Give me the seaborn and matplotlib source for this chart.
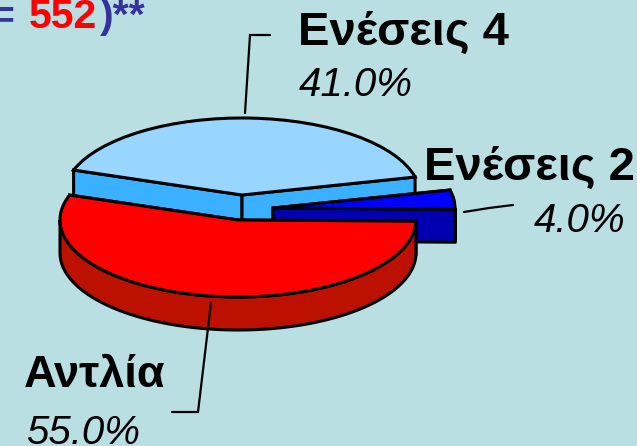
import numpy as np
import matplotlib
matplotlib.use("Agg")
import matplotlib.pyplot as plt
from matplotlib.patches import Polygon
from matplotlib.transforms import Affine2D
import seaborn as sns

# Survey shares by treatment type
labels = ["Ενέσεις 4", "Αντλία", "Ενέσεις 2"]
shares = [41.0, 55.0, 4.0]
share_labels = ["41.0%", "55.0%", "4.0%"]
sample_size = "552"

top_colors = sns.color_palette(["#99D6FF", "#FF0000", "#0000FF"])
side_colors = sns.color_palette(["#3AB0FF", "#BC1000", "#0000B0"])
BACKGROUND = "#B9DFE3"
NAVY = "#333399"

# Geometry of the tilted disc, in pixel units
FIG_H = 446
START_ANGLE = 13.5
RY, DEPTH = 77, 33
centres = [(242, 195), (238, 220), (273, 208)]
radii_x = [178, 178, 182]
z_order = [0, 2, 1]

sns.set_theme(style="white")
plt.rcParams["font.family"] = ["Liberation Sans", "DejaVu Sans"]

fig = plt.figure(figsize=(6.37, 4.46), dpi=100, facecolor=BACKGROUND)
ax = fig.add_axes([0, 0, 1, 1])
wedges, _ = ax.pie(shares, startangle=START_ANGLE, colors=top_colors, normalize=True,
                   wedgeprops=dict(edgecolor="black", linewidth=2.2, joinstyle="miter"))
ax.set_aspect("auto")
ax.set_xlim(0, 637)
ax.set_ylim(0, FIG_H)
ax.set_facecolor(BACKGROUND)
ax.axis("off")


def to_px(theta, cx, cy, rx):
    """Rim point of the tilted disc at angle theta (degrees)."""
    t = np.radians(theta)
    return cx + rx * np.cos(t), FIG_H - cy + RY * np.sin(t)


line_style = dict(edgecolor="black", linewidth=2.2, joinstyle="miter")

for idx, wedge in enumerate(wedges):
    cx, cy = centres[idx]
    rx = radii_x[idx]
    base = z_order[idx] * 10 + 1
    side = side_colors[idx]
    y0 = FIG_H - cy

    # Cut faces running from the hub out to the rim, lowered by the slab depth
    for theta in (wedge.theta2, wedge.theta1):
        x1, y1 = to_px(theta, cx, cy, rx)
        face = [(cx, y0), (x1, y1), (x1, y1 - DEPTH), (cx, y0 - DEPTH)]
        ax.add_patch(Polygon(face, closed=True, facecolor=side, zorder=base, **line_style))

    # Curved outer wall for the part of the rim that faces the viewer
    lo, hi = max(wedge.theta1, 180), min(wedge.theta2, 360)
    if hi > lo:
        arc = np.linspace(lo, hi, 120)
        xs, ys = to_px(arc, cx, cy, rx)
        wall = np.r_[np.c_[xs, ys], np.c_[xs[::-1], ys[::-1] - DEPTH]]
        ax.add_patch(Polygon(wall, closed=True, facecolor=side, zorder=base + 1, **line_style))

    # Top surface: the pie wedge itself, squashed and moved onto its hub
    wedge.set_transform(Affine2D().scale(rx, RY).translate(cx, y0) + ax.transData)
    wedge.set_zorder(base + 2)

# Leader lines from slices to their captions
leaders = [([245, 250, 270], [113, 35, 35]),
           ([211, 198, 172], [303, 412, 412]),
           ([464, 489, 513], [212, 208, 205])]
for xs, ys in leaders:
    ax.plot(xs, FIG_H - np.array(ys), color="black", lw=1.6, zorder=40, solid_joinstyle="miter")

name_kw = dict(fontsize=34, fontweight="bold", color="black", va="baseline", zorder=50)
pct_kw = dict(fontsize=29, fontstyle="italic", color="black", va="baseline", zorder=50)

ax.text(298, FIG_H - 45, labels[0], **name_kw)
ax.text(299, FIG_H - 96, share_labels[0], **pct_kw)
ax.text(424, FIG_H - 180, labels[2], **name_kw)
ax.text(534, FIG_H - 232, share_labels[2], **pct_kw)
ax.text(24, FIG_H - 387, labels[1], **{**name_kw, "fontsize": 32.5})
ax.text(26, FIG_H - 444, share_labels[1], **pct_kw)

# Sample-size fragment at the top edge
head_kw = dict(fontsize=29.5, fontweight="bold", va="baseline", zorder=50)
ax.text(-10, FIG_H - 28, "=", color=NAVY, **head_kw)
ax.text(29, FIG_H - 28, sample_size, color="#FF0000", **head_kw)
ax.text(100, FIG_H - 28, ")**", color=NAVY, **head_kw)

fig.savefig("out.png", dpi=100, facecolor=BACKGROUND)
